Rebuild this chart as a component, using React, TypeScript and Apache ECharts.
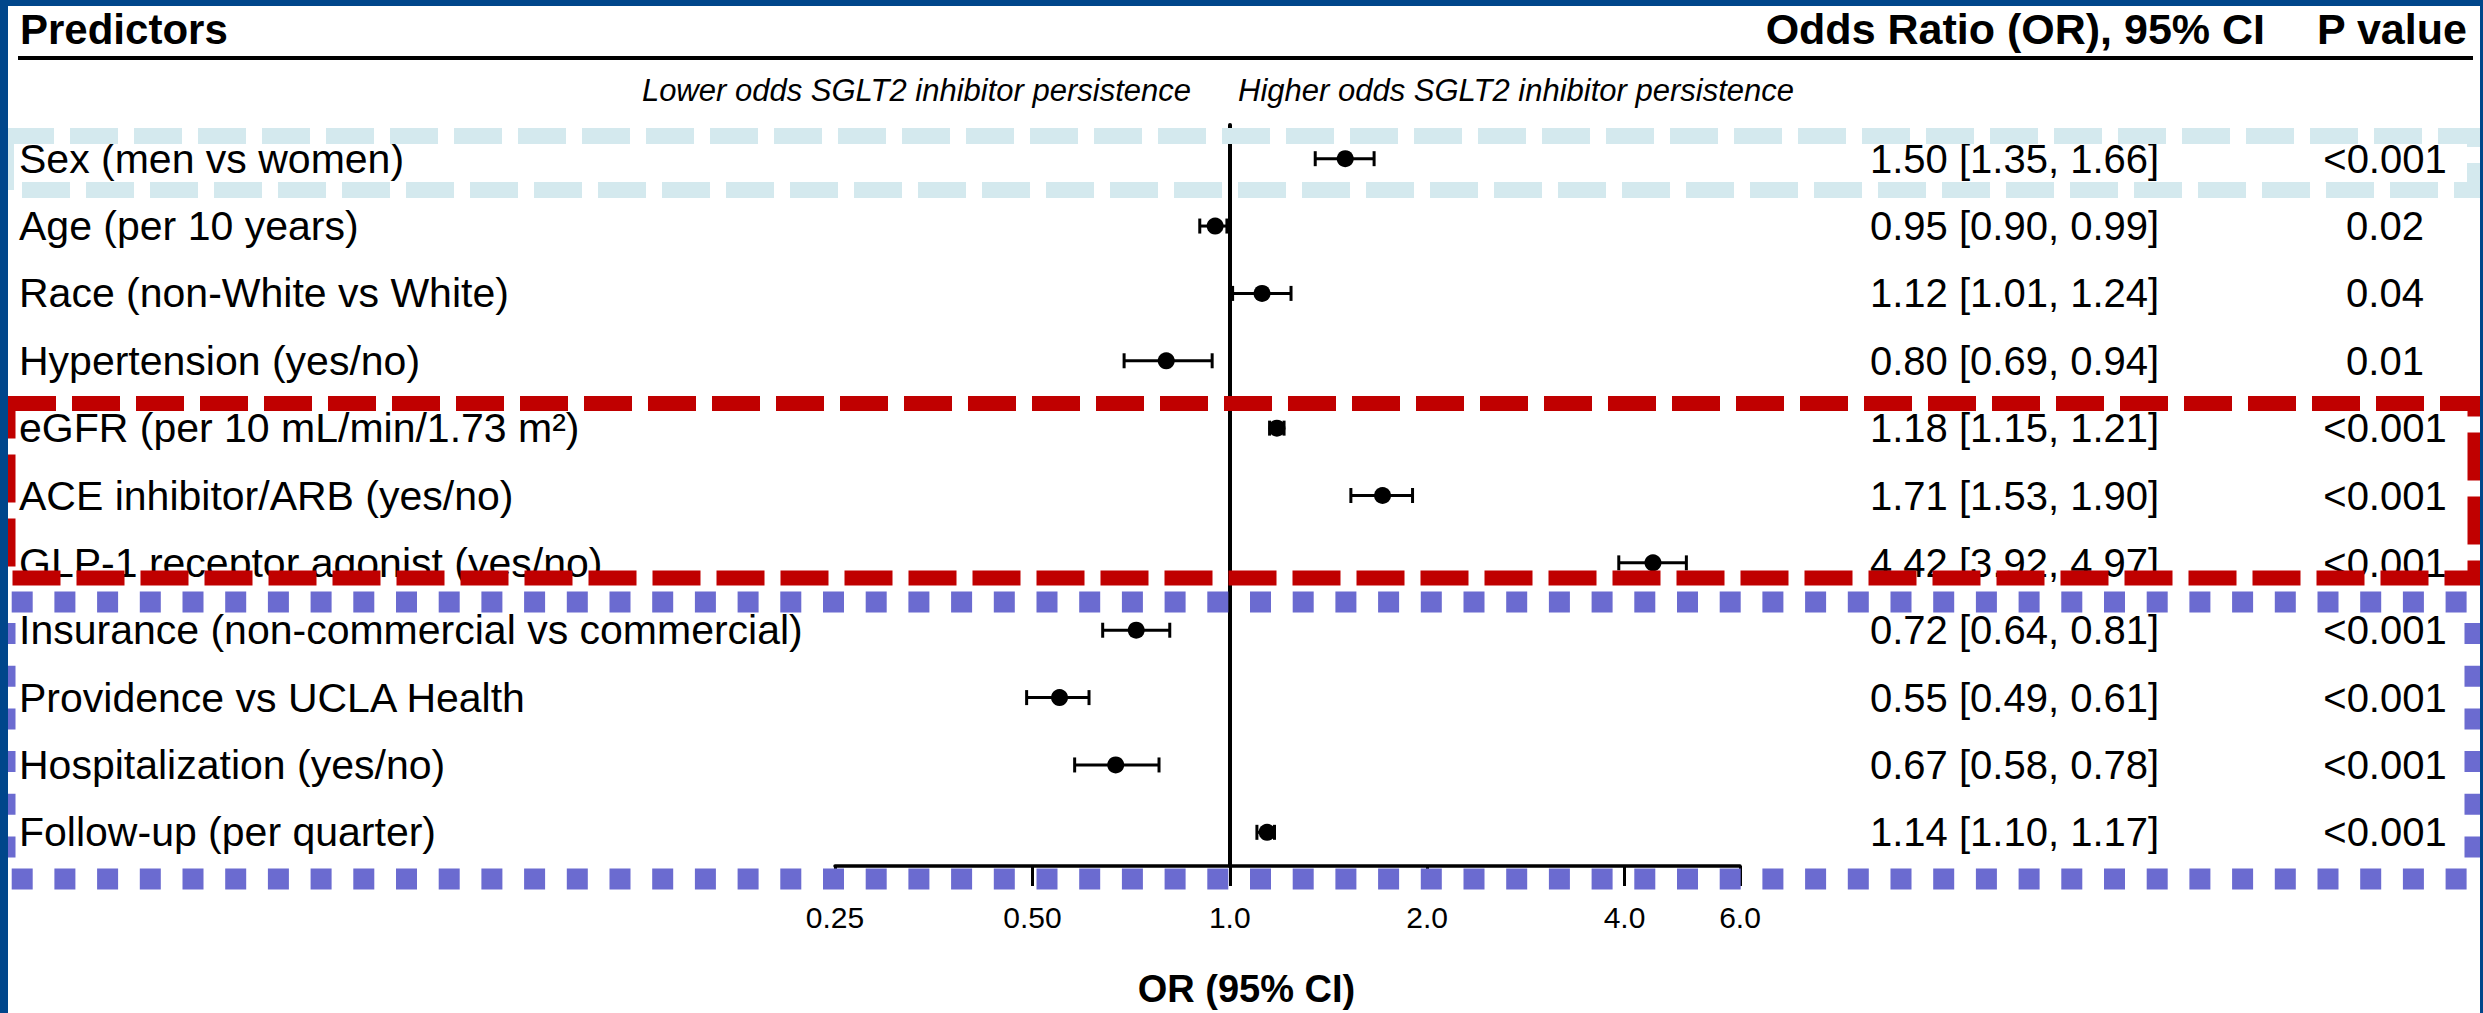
import React, { useEffect, useRef } from "react";
import * as echarts from "echarts";

const predictors = [
  "Sex (men vs women)",
  "Age (per 10 years)",
  "Race (non-White vs White)",
  "Hypertension (yes/no)",
  "eGFR (per 10 mL/min/1.73 m²)",
  "ACE inhibitor/ARB (yes/no)",
  "GLP-1 receptor agonist (yes/no)",
  "Insurance (non-commercial vs commercial)",
  "Providence vs UCLA Health",
  "Hospitalization (yes/no)",
  "Follow-up (per quarter)",
];
const oddsRatio = [1.5, 0.95, 1.12, 0.8, 1.18, 1.71, 4.42, 0.72, 0.55, 0.67, 1.14];
const ciLower = [1.35, 0.9, 1.01, 0.69, 1.15, 1.53, 3.92, 0.64, 0.49, 0.58, 1.1];
const ciUpper = [1.66, 0.99, 1.24, 0.94, 1.21, 1.9, 4.97, 0.81, 0.61, 0.78, 1.17];
const pValues = ["<0.001", "0.02", "0.04", "0.01", "<0.001", "<0.001", "<0.001", "<0.001", "<0.001", "<0.001", "<0.001"];
const tickValues = [0.25, 0.5, 1, 2, 4, 6];
const tickLabels = ["0.25", "0.50", "1.0", "2.0", "4.0", "6.0"];

const FONT = '"Liberation Sans", Arial, Helvetica, sans-serif';

export default function App() {
  const ref = useRef<HTMLDivElement>(null);
  useEffect(() => {
    if (!ref.current) return;
    const chart = echarts.init(ref.current, undefined, { renderer: "svg" });
    const orText = oddsRatio.map(
      (v, i) => `${v.toFixed(2)} [${ciLower[i].toFixed(2)}, ${ciUpper[i].toFixed(2)}]`
    );
    const data = predictors.map((_, i) => [
      Math.log2(oddsRatio[i]),
      Math.log2(ciLower[i]),
      Math.log2(ciUpper[i]),
      i,
    ]);
    const minX = Math.log2(tickValues[0]);
    const maxX = Math.log2(tickValues[tickValues.length - 1]);

    const dotStyle = { stroke: "#6b6bd0", lineWidth: 21, lineDash: [21, 21.7] };

    const option: any = {
      animation: false,
      backgroundColor: "#ffffff",
      textStyle: { fontFamily: FONT, color: "#000" },
      grid: { left: 835, right: 743, top: 125, bottom: 146, containLabel: false },
      xAxis: {
        type: "value",
        min: minX,
        max: maxX,
        interval: 1,
        axisLine: { onZero: false, lineStyle: { color: "#000", width: 3.5 } },
        axisTick: { show: true, length: 20, lineStyle: { color: "#000", width: 3 } },
        splitLine: { show: false },
        axisLabel: {
          fontSize: 30,
          color: "#000",
          fontFamily: FONT,
          margin: 36,
          formatter: (v: number) => {
            const idx = tickValues.findIndex((t) => Math.abs(Math.log2(t) - v) < 1e-6);
            return idx >= 0 ? tickLabels[idx] : "";
          },
        },
        name: "OR (95% CI)",
        nameLocation: "middle",
        nameGap: 104,
        nameTextStyle: {
          fontSize: 38,
          fontWeight: "bold",
          color: "#000",
          fontFamily: FONT,
          padding: [0, 82, 0, 0],
        },
      },
      yAxis: [
        {
          type: "value",
          inverse: true,
          min: -0.5,
          max: predictors.length - 0.5,
          position: "left",
          axisLine: { show: true, onZero: true, lineStyle: { color: "#000", width: 4 } },
          axisTick: { show: false },
          axisLabel: { show: false },
          splitLine: { show: false },
        },
        {
          type: "category",
          inverse: true,
          data: predictors,
          position: "left",
          axisLine: { show: false, onZero: false },
          axisTick: { show: false },
          splitLine: { show: false },
          axisLabel: {
            interval: 0,
            align: "left",
            margin: 816,
            fontSize: 41,
            color: "#000",
            fontFamily: FONT,
          },
        },
        {
          type: "category",
          inverse: true,
          data: orText,
          position: "right",
          axisLine: { show: false, onZero: false },
          axisTick: { show: false },
          splitLine: { show: false },
          axisLabel: {
            interval: 0,
            align: "left",
            margin: 130,
            formatter: (v: string, i: number) => `{a|${v}}{b|${pValues[i]}}`,
            rich: {
              a: { width: 435, align: "left", fontSize: 40, color: "#000", fontFamily: FONT },
              b: { width: 160, align: "center", fontSize: 40, color: "#000", fontFamily: FONT },
            },
          },
        },
      ],
      series: [
        {
          type: "custom",
          xAxisIndex: 0,
          yAxisIndex: 0,
          data,
          encode: { x: [0, 1, 2], y: 3 },
          renderItem: (params: any, api: any) => {
            const row = api.value(3);
            const c = api.coord([api.value(0), row]);
            const l = api.coord([api.value(1), row]);
            const h = api.coord([api.value(2), row]);
            const cap = 7.5;
            const st = { stroke: "#000", lineWidth: 3 };
            return {
              type: "group",
              children: [
                { type: "line", shape: { x1: l[0], y1: c[1], x2: h[0], y2: c[1] }, style: st },
                { type: "line", shape: { x1: l[0], y1: c[1] - cap, x2: l[0], y2: c[1] + cap }, style: st },
                { type: "line", shape: { x1: h[0], y1: c[1] - cap, x2: h[0], y2: c[1] + cap }, style: st },
                { type: "circle", shape: { cx: c[0], cy: c[1], r: 8.5 }, style: { fill: "#000" } },
              ],
            };
          },
        },
      ],
      graphic: [
        {
          type: "text", x: 20, y: 29, z: 50,
          style: { text: "Predictors", fontSize: 42, fontWeight: "bold", fontFamily: FONT, fill: "#000", align: "left", verticalAlign: "middle" },
        },
        {
          type: "text", x: 2265, y: 29, z: 50,
          style: { text: "Odds Ratio (OR), 95% CI", fontSize: 43, fontWeight: "bold", fontFamily: FONT, fill: "#000", align: "right", verticalAlign: "middle" },
        },
        {
          type: "text", x: 2392, y: 29, z: 50,
          style: { text: "P value", fontSize: 43, fontWeight: "bold", fontFamily: FONT, fill: "#000", align: "center", verticalAlign: "middle" },
        },
        {
          type: "line", z: 50,
          shape: { x1: 18, y1: 58, x2: 2473, y2: 58 },
          style: { stroke: "#000", lineWidth: 4 },
        },
        {
          type: "text", x: 1191, y: 90, z: 50,
          style: { text: "Lower odds SGLT2 inhibitor persistence", fontSize: 31, fontStyle: "italic", fontFamily: FONT, fill: "#000", align: "right", verticalAlign: "middle" },
        },
        {
          type: "text", x: 1238, y: 90, z: 50,
          style: { text: "Higher odds SGLT2 inhibitor persistence", fontSize: 31, fontStyle: "italic", fontFamily: FONT, fill: "#000", align: "left", verticalAlign: "middle" },
        },
        {
          type: "rect", z: 100, silent: true,
          shape: { x: 6, y: 136, width: 2469, height: 54 },
          style: { fill: "none", stroke: "#d4e9ee", lineWidth: 16, lineDash: [48, 16] },
        },
        {
          type: "rect", z: 100, silent: true,
          shape: { x: 8, y: 403.5, width: 2467, height: 174.5 },
          style: { fill: "none", stroke: "#c00000", lineWidth: 15, lineDash: [48, 16] },
        },
        { type: "line", z: 100, silent: true, shape: { x1: -31, y1: 602, x2: 2486, y2: 602 }, style: dotStyle },
        { type: "line", z: 100, silent: true, shape: { x1: -31, y1: 879, x2: 2486, y2: 879 }, style: dotStyle },
        { type: "line", z: 100, silent: true, shape: { x1: 5, y1: 623, x2: 5, y2: 879 }, style: dotStyle },
        { type: "line", z: 100, silent: true, shape: { x1: 2475, y1: 623, x2: 2475, y2: 879 }, style: dotStyle },
        { type: "rect", z: 200, silent: true, shape: { x: 0, y: 0, width: 2483, height: 6 }, style: { fill: "#00468b" } },
        { type: "rect", z: 200, silent: true, shape: { x: 0, y: 0, width: 8, height: 1013 }, style: { fill: "#00468b" } },
        { type: "rect", z: 200, silent: true, shape: { x: 2480, y: 0, width: 3, height: 1013 }, style: { fill: "#00468b" } },
      ],
    };
    chart.setOption(option);
    return () => chart.dispose();
  }, []);
  return (
    <div
      ref={ref}
      style={{ position: "fixed", left: 0, top: 0, width: 2483, height: 1013 }}
    />
  );
}
